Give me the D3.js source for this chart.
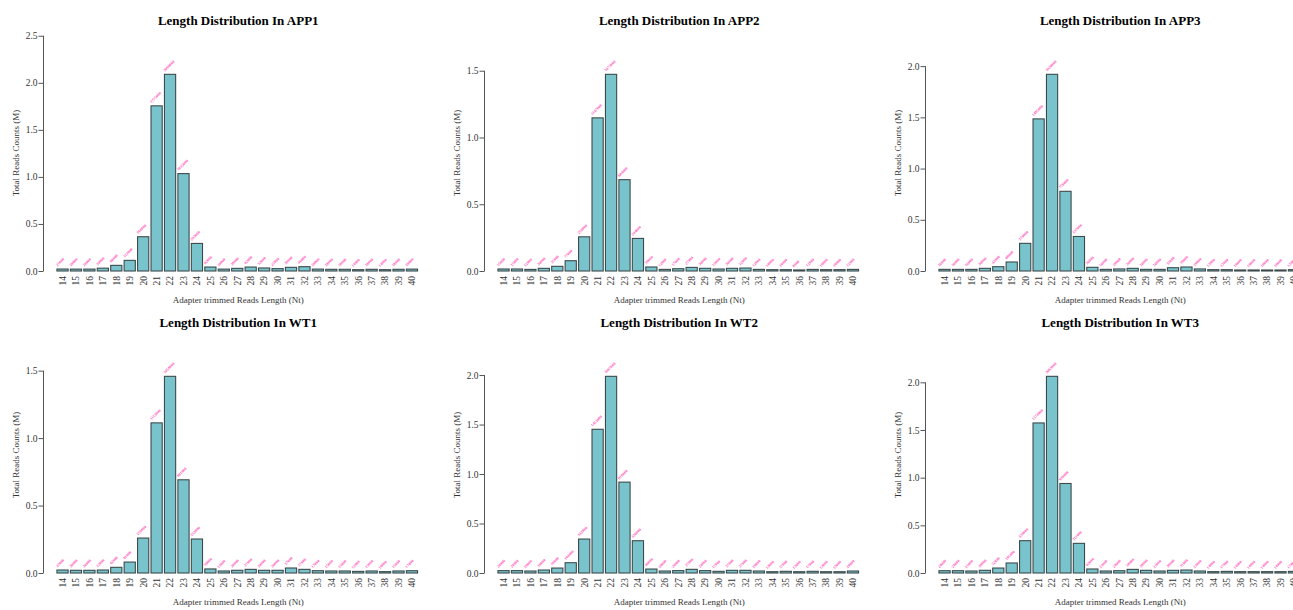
<!DOCTYPE html>
<html lang="en">
<head>
  <meta charset="UTF-8">
  <title>Length Distribution</title>
  <script src="https://d3js.org/d3.v7.min.js"></script>
</head>

<style>
  body {
    margin: 0;
    background: #fff;
    overflow: hidden;
  }
  svg text {
    font-family: "Liberation Serif", "Times New Roman", serif;
  }
</style>

<body>
<div id="chart"></div>

<script>
  // read lengths (Nt) on the x axis
  var lengths = [14, 15, 16, 17, 18, 19, 20, 21, 22, 23, 24, 25, 26, 27, 28, 29, 30,
                 31, 32, 33, 34, 35, 36, 37, 38, 39, 40];

  // total reads counts per length, in millions
  var app1 = [0.021, 0.020, 0.020, 0.030, 0.060, 0.113, 0.364, 1.755, 2.090, 1.035, 0.293, 0.042, 0.020, 0.028,
              0.042, 0.032, 0.025, 0.039, 0.046, 0.020, 0.018, 0.018, 0.014, 0.018, 0.014, 0.018, 0.020];
  var app2 = [0.015, 0.015, 0.012, 0.020, 0.035, 0.077, 0.256, 1.147, 1.473, 0.684, 0.244, 0.030, 0.012, 0.017,
              0.027, 0.020, 0.015, 0.020, 0.022, 0.012, 0.010, 0.010, 0.008, 0.012, 0.010, 0.010, 0.012];
  var app3 = [0.016, 0.016, 0.016, 0.026, 0.042, 0.088, 0.270, 1.485, 1.920, 0.778, 0.337, 0.036, 0.016, 0.020,
              0.026, 0.016, 0.016, 0.032, 0.039, 0.020, 0.013, 0.013, 0.010, 0.010, 0.010, 0.010, 0.013];
  var wt1 = [0.022, 0.020, 0.020, 0.022, 0.042, 0.081, 0.259, 1.113, 1.458, 0.691, 0.252, 0.030, 0.015, 0.020,
             0.027, 0.020, 0.020, 0.037, 0.027, 0.017, 0.015, 0.015, 0.012, 0.015, 0.010, 0.015, 0.017];
  var wt2 = [0.024, 0.024, 0.020, 0.030, 0.050, 0.104, 0.343, 1.452, 1.987, 0.918, 0.326, 0.040, 0.020, 0.024,
             0.037, 0.024, 0.017, 0.027, 0.027, 0.020, 0.013, 0.017, 0.013, 0.017, 0.013, 0.013, 0.020];
  var wt3 = [0.024, 0.024, 0.021, 0.028, 0.052, 0.105, 0.339, 1.574, 2.063, 0.939, 0.311, 0.042, 0.021, 0.024,
             0.038, 0.028, 0.021, 0.028, 0.031, 0.021, 0.014, 0.017, 0.014, 0.014, 0.014, 0.014, 0.017];

  var sampleNames = ['APP1', 'APP2', 'APP3', 'WT1', 'WT2', 'WT3'];
  var sampleValues = [app1, app2, app3, wt1, wt2, wt3];

  var W = 1293, H = 610;
  var panelW = 441, panelH = 302;
  var plot = {left: 43.5, right: 431, top: 35, bottom: 271};

  var svg = d3.select('#chart').append('svg')
    .attr('width', W)
    .attr('height', H);

  sampleNames.forEach(function (name, i) {
    var values = sampleValues[i];
    var g = svg.append('g')
      .attr('transform', 'translate(' + ((i % 3) * panelW) + ',' + (Math.floor(i / 3) * panelH) + ')');

    var x = d3.scaleBand()
      .domain(lengths)
      .range([plot.left, plot.right])
      .paddingInner(1 / 6)
      .paddingOuter(1);

    var y = d3.scaleLinear()
      .domain([0, d3.max(values) * 1.2])
      .range([plot.bottom, plot.top]);

    var ticks = y.ticks(5);

    // title
    g.append('text')
      .attr('x', (plot.left + plot.right) / 2 + 1)
      .attr('y', 25)
      .attr('text-anchor', 'middle')
      .style('font-size', '13px')
      .style('font-weight', 'bold')
      .text('Length Distribution In ' + name);

    // y axis, line only spans the ticks like R does
    var yAxis = g.append('g')
      .attr('transform', 'translate(' + plot.left + ',0)')
      .call(d3.axisLeft(y).tickValues(ticks).tickSize(5).tickSizeOuter(0).tickFormat(d3.format('.1f')));
    yAxis.select('.domain').remove();
    yAxis.append('line')
      .attr('x1', 0).attr('x2', 0)
      .attr('y1', y(ticks[0])).attr('y2', y(ticks[ticks.length - 1]))
      .attr('stroke', '#555');
    yAxis.selectAll('.tick line').attr('stroke', '#555');
    yAxis.selectAll('.tick text')
      .attr('x', -6)
      .attr('fill', '#333')
      .style('font-size', '9.5px')
      .style('font-family', '"Liberation Serif", serif');

    g.append('text')
      .attr('transform', 'translate(19,' + ((plot.top + plot.bottom) / 2) + ') rotate(-90)')
      .attr('text-anchor', 'middle')
      .attr('fill', '#333')
      .style('font-size', '9px')
      .text('Total Reads Counts (M)');

    // bars
    g.selectAll('rect.bar')
      .data(values)
      .enter()
      .append('rect')
      .classed('bar', true)
      .attr('x', function (d, j) { return x(lengths[j]); })
      .attr('y', function (d) { return y(d); })
      .attr('width', x.bandwidth())
      .attr('height', function (d) { return y(0) - y(d); })
      .attr('fill', '#79c4cc')
      .attr('stroke', '#3d4a4c')
      .attr('stroke-width', 1.1);

    // small pink count labels above bars
    g.selectAll('text.count')
      .data(values)
      .enter()
      .append('text')
      .classed('count', true)
      .attr('transform', function (d, j) {
        return 'translate(' + (x(lengths[j]) + 0.5) + ',' + (y(d) - 2.5) + ') rotate(-45)';
      })
      .attr('fill', '#ff4fb8')
      .style('font-size', '4px')
      .style('font-weight', 'bold')
      .text(function (d) { return Math.round(d * 1e6); });

    // x tick labels, vertical
    g.selectAll('text.xlab')
      .data(lengths)
      .enter()
      .append('text')
      .classed('xlab', true)
      .attr('transform', function (d) {
        return 'translate(' + (x(d) + x.bandwidth() / 2) + ',276) rotate(-90)';
      })
      .attr('text-anchor', 'end')
      .attr('dy', '0.35em')
      .attr('fill', '#333')
      .style('font-size', '9.5px')
      .text(function (d) { return d; });

    g.append('text')
      .attr('x', (plot.left + plot.right) / 2 + 1)
      .attr('y', 303)
      .attr('text-anchor', 'middle')
      .attr('fill', '#333')
      .style('font-size', '9px')
      .text('Adapter trimmed Reads Length (Nt)');
  });
</script>
</body>
</html>
